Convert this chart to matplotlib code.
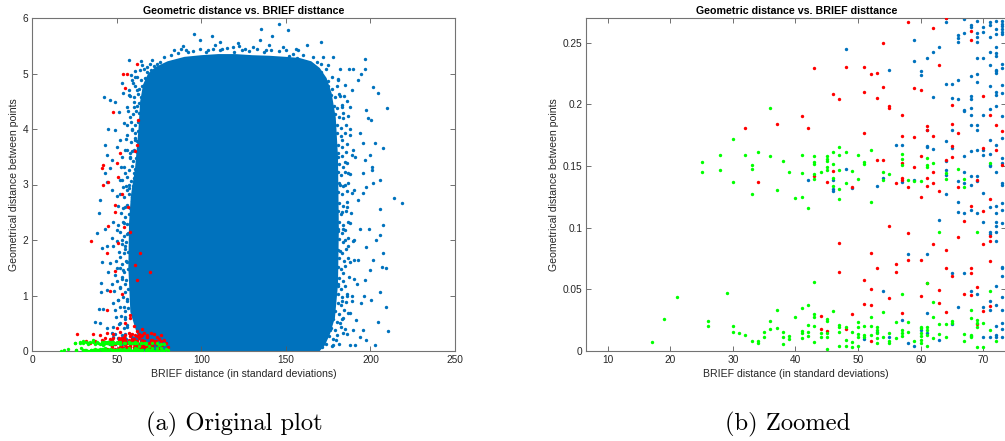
import matplotlib
matplotlib.use("Agg")
import matplotlib.pyplot as plt
from matplotlib.ticker import FuncFormatter

# ---------------------------------------------------------------------------
# Matches plotted against BRIEF distance (x) and geometric distance (y).
# Points inside the zoom window (x <= ~73, y <= 0.27), read as (x, y).
# ---------------------------------------------------------------------------
green_pts = [
    (17, 0.0071), (19, 0.0263), (21, 0.0441), (26, 0.0241), (26, 0.0203),
    (29, 0.0474), (30, 0.0203), (30, 0.0152), (31, 0.0143), (32, 0.0127),
    (33, 0.0079), (34, 0.0084), (34, 0.0068), (35, 0.0155), (35, 0.0116),
    (36, 0.0246), (36, 0.0181), (37, 0.0333), (37, 0.0186), (38, 0.0157),
    (38, 0.0114), (38, 0.0060), (39, 0.0119), (39, 0.0100), (40, 0.0274),
    (41, 0.0352), (41, 0.0162), (41, 0.0143), (41, 0.0103), (42, 0.0371),
    (42, 0.0214), (42, 0.0157), (42, 0.0122), (43, 0.0560), (43, 0.0298),
    (43, 0.0279), (43, 0.0200), (43, 0.0076), (44, 0.0149), (44, 0.0116),
    (45, 0.0260), (45, 0.0247), (45, 0.0149), (45, 0.0114), (45, 0.0019),
    (46, 0.0325), (47, 0.0211), (47, 0.0198), (47, 0.0154), (47, 0.0041),
    (48, 0.0198), (48, 0.0089), (48, 0.0041), (49, 0.0157), (49, 0.0071),
    (49, 0.0035), (50, 0.0238), (50, 0.0192), (50, 0.0135), (50, 0.0117),
    (50, 0.0041), (51, 0.0203), (51, 0.0130), (51, 0.0117), (52, 0.0279),
    (52, 0.0203), (52, 0.0130), (53, 0.0198), (53, 0.0171), (53, 0.0144),
    (53, 0.0103), (53, 0.0068), (54, 0.0314), (54, 0.0111), (55, 0.0149),
    (55, 0.0084), (55, 0.0068), (56, 0.0233), (56, 0.0108), (57, 0.0463),
    (57, 0.0168), (57, 0.0149), (57, 0.0122), (58, 0.0233), (58, 0.0154),
    (59, 0.0084), (60, 0.0198), (60, 0.0184), (60, 0.0144), (60, 0.0119),
    (60, 0.0089), (60, 0.0068), (61, 0.0550), (61, 0.0198), (61, 0.0171),
    (61, 0.0130), (61, 0.0041), (62, 0.0401), (62, 0.0279), (62, 0.0103),
    (63, 0.0961), (63, 0.0219), (63, 0.0138), (64, 0.0222), (64, 0.0117),
    (65, 0.0246), (65, 0.0225), (67, 0.0138), (67, 0.0084), (68, 0.0333),
    (68, 0.0271), (68, 0.0130), (68, 0.0117), (69, 0.0961), (69, 0.0252),
    (69, 0.0230), (69, 0.0192), (69, 0.0035), (70, 0.0225), (70, 0.0035),
    (71, 0.0487), (71, 0.0171), (72, 0.0084),
    (25, 0.1529), (25, 0.1451), (28, 0.1589), (28, 0.1470), (30, 0.1716),
    (30, 0.1372), (32, 0.1586), (33, 0.1508), (33, 0.1473), (33, 0.1275),
    (34, 0.1610), (36, 0.1973), (36, 0.1581), (37, 0.1307), (38, 0.1537),
    (39, 0.1453), (40, 0.1240), (41, 0.1589), (41, 0.1443), (41, 0.1248),
    (42, 0.1156), (43, 0.1581), (43, 0.1532), (43, 0.1513), (43, 0.1435),
    (43, 0.1391), (44, 0.1451), (45, 0.1578), (45, 0.1557), (45, 0.1537),
    (45, 0.1489), (45, 0.1465), (46, 0.1613), (46, 0.1513), (46, 0.1405),
    (46, 0.1334), (47, 0.1654), (47, 0.1586), (47, 0.1470), (47, 0.1316),
    (47, 0.1229), (48, 0.1613), (48, 0.1364), (49, 0.1462), (50, 0.1592),
    (50, 0.1396), (51, 0.1534), (51, 0.1518), (52, 0.1629), (52, 0.1209),
    (54, 0.1453), (54, 0.1388), (55, 0.1432), (57, 0.1599), (57, 0.1556),
    (57, 0.1510), (58, 0.1383), (59, 0.1375), (60, 0.1375), (61, 0.1566),
    (61, 0.1505), (61, 0.1488), (62, 0.1524), (64, 0.1442), (64, 0.1394),
    (66, 0.1478), (67, 0.1397), (67, 0.1326), (71, 0.1524),
]

red_pts = [
    (44, 0.0287), (44, 0.0179), (45, 0.0165), (47, 0.0874), (47, 0.0644),
    (48, 0.0176), (49, 0.0301), (51, 0.0574), (51, 0.0379), (52, 0.0793),
    (52, 0.0504), (52, 0.0374), (52, 0.0081), (53, 0.0674), (55, 0.1015),
    (55, 0.0428), (56, 0.0704), (56, 0.0644), (57, 0.0306), (58, 0.0956),
    (58, 0.0739), (60, 0.0739), (60, 0.0447), (61, 0.0555), (62, 0.0869),
    (63, 0.0493), (63, 0.0387), (64, 0.0815), (64, 0.0671), (64, 0.0314),
    (65, 0.0609), (66, 0.0921), (67, 0.1053), (67, 0.0460), (68, 0.0670),
    (68, 0.0636), (68, 0.0455), (69, 0.0517), (69, 0.0222), (70, 0.0869),
    (70, 0.0325), (71, 0.0929), (71, 0.0888), (71, 0.0726), (71, 0.0366),
    (32, 0.1808), (34, 0.1372), (37, 0.1843), (41, 0.1905), (42, 0.1808),
    (43, 0.2295), (43, 0.1415), (45, 0.1372), (46, 0.2084), (46, 0.1459),
    (47, 0.2046), (48, 0.2303), (49, 0.1326), (51, 0.2300), (51, 0.2100),
    (51, 0.1770), (52, 0.2249), (53, 0.2254), (53, 0.2054), (53, 0.1548),
    (54, 0.2501), (54, 0.2141), (54, 0.1550), (55, 0.1984), (55, 0.1970),
    (56, 0.1361), (57, 0.1913), (57, 0.1740), (57, 0.1524), (57, 0.1402),
    (57, 0.1388), (58, 0.2669), (58, 0.1329), (59, 0.2135), (59, 0.1735),
    (59, 0.1488), (60, 0.2119), (60, 0.1583), (60, 0.1250), (61, 0.1821),
    (61, 0.1789), (61, 0.1402), (61, 0.1340), (62, 0.2615), (62, 0.1740),
    (62, 0.1450), (62, 0.1361), (63, 0.2322), (63, 0.1299), (64, 0.2701),
    (64, 0.1550), (65, 0.1997), (65, 0.1843), (65, 0.1659), (65, 0.1572),
    (66, 0.1767), (66, 0.1329), (68, 0.2593), (68, 0.2525), (68, 0.1172),
    (69, 0.1388), (70, 0.2065), (70, 0.1650), (70, 0.1137), (71, 0.1916),
    (71, 0.1230), (72, 0.1835), (72, 0.1632), (73, 0.1786), (73, 0.1510),
]

blue_pts = [
    (51, 0.0098), (53, 0.0157), (54, 0.0487), (55, 0.0111), (57, 0.0252),
    (58, 0.0785), (58, 0.0062), (59, 0.0043), (60, 0.0171), (61, 0.0785),
    (61, 0.0309), (61, 0.0143), (63, 0.1059), (63, 0.0089), (65, 0.0631),
    (65, 0.0217), (66, 0.0360), (67, 0.0631), (68, 0.0487), (68, 0.0125),
    (69, 0.0460), (70, 0.1050), (70, 0.0355), (70, 0.0117), (71, 0.0961),
    (71, 0.0950), (71, 0.0409), (71, 0.0333), (71, 0.0117), (72, 0.1050),
    (72, 0.1010), (72, 0.0964), (72, 0.0894), (72, 0.0523), (72, 0.0374),
    (72, 0.0203), (72, 0.0130), (72, 0.0111), (73, 0.1037), (73, 0.0685),
    (73, 0.0671), (73, 0.0609), (73, 0.0436), (73, 0.0333), (73, 0.0225),
    (73, 0.0179), (73, 0.0117),
    (42, 0.1388), (46, 0.1386), (46, 0.1315), (46, 0.1299), (48, 0.2449),
    (48, 0.1475), (49, 0.1321), (53, 0.1334), (54, 0.1402), (55, 0.2276),
    (56, 0.1667), (57, 0.1667), (57, 0.1369), (59, 0.2522), (59, 0.2355),
    (59, 0.1388), (60, 0.2268), (60, 0.2241), (61, 0.2374), (61, 0.1794),
    (61, 0.1664), (61, 0.1654), (62, 0.2422), (62, 0.2060), (62, 0.1637),
    (63, 0.2463), (64, 0.2701), (64, 0.2666), (64, 0.2165), (64, 0.1705),
    (64, 0.1537), (64, 0.1469), (64, 0.1429), (64, 0.1274), (65, 0.2165),
    (65, 0.2054), (65, 0.1794), (65, 0.1645), (66, 0.2566), (66, 0.2539),
    (66, 0.2503), (66, 0.2200), (66, 0.2046), (66, 0.1375), (66, 0.1212),
    (66, 0.1130), (67, 0.2693), (67, 0.2579), (67, 0.1957), (67, 0.1943),
    (67, 0.1578), (67, 0.1448), (67, 0.1361), (67, 0.1115), (68, 0.2647),
    (68, 0.2625), (68, 0.2227), (68, 0.2065), (68, 0.2043), (68, 0.1970),
    (68, 0.1916), (68, 0.1835), (68, 0.1624), (68, 0.1421), (68, 0.1348),
    (68, 0.1140), (69, 0.2674), (69, 0.2579), (69, 0.2547), (69, 0.2503),
    (69, 0.2376), (69, 0.2249), (69, 0.2179), (69, 0.1835), (69, 0.1789),
    (69, 0.1626), (69, 0.1415), (69, 0.1375), (69, 0.1120), (70, 0.2625),
    (70, 0.2585), (70, 0.2374), (70, 0.1916), (70, 0.1626), (70, 0.1591),
    (70, 0.1285), (71, 0.2669), (71, 0.2642), (71, 0.2544), (71, 0.2425),
    (71, 0.2322), (71, 0.2152), (71, 0.1962), (71, 0.1713), (71, 0.1599),
    (71, 0.1510), (71, 0.1497), (71, 0.1170), (72, 0.2674), (72, 0.2612),
    (72, 0.2574), (72, 0.2466), (72, 0.2417), (72, 0.2390), (72, 0.2282),
    (72, 0.2268), (72, 0.2254), (72, 0.2097), (72, 0.2079), (72, 0.1989),
    (72, 0.1672), (72, 0.1448), (72, 0.1177), (72, 0.1120), (73, 0.2674),
    (73, 0.2655), (73, 0.2633), (73, 0.2612), (73, 0.2587), (73, 0.2571),
    (73, 0.2328), (73, 0.2295), (73, 0.2157), (73, 0.2092), (73, 0.1903),
    (73, 0.1727), (73, 0.1564), (73, 0.1524), (73, 0.1361), (73, 0.1348),
    (73, 0.1199), (73, 0.1140),
]

# Points only visible in the full-range view.
red_wide_pts = [
    (26.6, 0.30), (36, 0.31), (40, 0.29), (44, 0.32), (48, 0.30), (52, 0.34),
    (55, 0.29), (57, 0.33), (59, 0.31), (62, 0.36), (63, 0.30), (66, 0.32),
    (68, 0.29), (70, 0.33), (72, 0.30), (74, 0.25), (74, 0.12), (75, 0.05),
    (76, 0.18), (76, 0.28), (77, 0.10), (78, 0.20), (79, 0.15), (80, 0.08),
    (75, 0.22), (61, 0.28), (65, 0.28),
    (61.7, 5.18), (53.8, 4.99), (55.8, 4.99), (54.8, 4.73), (47.9, 4.30),
    (62.6, 4.17), (61.7, 3.71), (60.7, 3.61), (51.8, 3.57), (49.8, 3.38),
    (41.6, 3.35), (41.0, 3.29), (50.8, 3.14), (42.0, 3.00), (44.9, 3.05),
    (52.8, 2.83), (48.9, 2.63), (56.7, 2.60), (48.9, 2.50), (44.9, 2.25),
    (54.2, 2.23), (57.7, 2.15), (34.7, 1.98), (50.8, 1.94), (43.9, 1.77),
    (63.6, 1.76), (48.9, 1.44), (60.7, 1.55), (69.9, 1.43), (61.7, 1.28),
    (45.9, 1.09), (52.8, 1.03), (43.9, 0.74), (57.7, 0.65), (57.7, 0.59),
    (55, 0.50), (60, 0.45), (65, 0.40), (50, 0.42),
]

green_wide_pts = [
    (74, 0.02), (75, 0.10), (76, 0.05), (77, 0.02), (78, 0.12), (79, 0.03),
    (80, 0.01), (74, 0.15), (76, 0.13), (73.8, 0.06), (75, 0.00), (78, 0.00),
]

# Sparse blue matches scattered around the dense cloud.
blue_wide_pts = [
    # top
    (95.7, 5.71), (106.4, 5.675), (110.9, 5.57), (121.6, 5.555), (135.5, 5.795),
    (142, 5.675), (145.8, 5.89), (151.5, 5.79), (162.7, 5.52), (170.6, 5.57),
    (134.4, 5.60), (148, 5.48), (130.6, 5.48), (118.8, 5.48), (99, 5.60),
    (88, 5.45), (84, 5.42), (112, 5.45), (126, 5.45), (156, 5.45), (166, 5.30),
    (92, 5.38), (104, 5.42), (138, 5.42),
    # right, upper half
    (196.6, 5.27), (197, 5.09), (194.6, 5.00), (192.7, 4.88), (201.5, 4.76),
    (204.5, 4.64), (209.8, 4.37), (197.6, 4.34), (198.6, 4.19), (200.6, 4.16),
    (202.5, 3.74), (207.4, 3.65), (199.6, 3.53), (201.1, 3.32), (205.5, 3.08),
    (200.7, 3.26), (205.5, 2.55), (213.9, 2.76), (218.9, 2.66), (195.6, 2.84),
    (189.7, 5.09), (187.4, 5.09), (181.8, 5.09), (177.9, 5.29), (174.9, 5.15),
    (172, 5.30), (187.7, 4.40), (193.7, 3.92), (189.7, 3.62), (195.6, 3.74),
    (196.6, 3.44), (195.6, 3.20), (192.7, 2.72), (197.6, 2.96), (201.5, 3.02),
    (182, 4.6), (184, 4.2), (183, 3.8), (185, 3.4), (182, 3.0), (186, 2.6),
    (184, 2.2), (181, 4.9), (185, 4.8), (188, 4.0), (187, 3.2), (190, 2.9),
    (183, 2.5), (188, 2.3), (191, 3.5), (186, 4.5), (183, 4.4), (185, 3.0),
    (189, 4.7), (181, 3.5), (181, 2.2),
    # right, lower half
    (207.4, 2.27), (203.5, 2.00), (205.5, 2.09), (207.4, 1.76), (201.5, 1.64),
    (207, 1.52), (209.4, 1.49), (199.6, 1.46), (205.5, 1.07), (200.5, 0.92),
    (209.2, 0.80), (204.5, 0.53), (210.4, 0.36), (197.6, 0.20), (202.5, 0.11),
    (195.6, 0.38), (193.7, 0.26), (191.7, 0.56), (189.7, 0.38), (187.7, 0.11),
    (186.8, 0.68), (197.6, 1.88), (196.6, 1.28), (194.6, 0.86), (183.8, 0.32),
    (179.9, 0.20), (175.9, 0.38), (192.7, 1.64),
    (182, 1.8), (184, 1.4), (186, 1.0), (188, 1.6), (190, 2.0), (192, 1.2),
    (183, 0.9), (185, 2.0), (189, 0.9), (181, 1.2), (187, 1.9), (194, 2.2),
    (191, 0.1), (178, 0.1), (182, 0.5), (186, 0.3), (196, 1.0), (199, 2.2),
    (184, 0.6),
    # left, upper half
    (42.6, 4.58), (45.9, 4.52), (48.9, 4.49), (57.3, 5.24), (58.1, 4.97),
    (52.8, 4.82), (53.8, 4.64), (43.1, 3.71), (43.9, 3.53), (48.9, 3.98),
    (49.8, 3.68), (51.8, 3.80), (42.9, 3.20), (44.4, 3.05), (40.0, 2.72),
    (39.6, 2.48), (46.9, 3.44), (52.2, 3.32), (51.8, 3.08), (53.8, 2.96),
    (55.8, 3.62), (57.7, 4.22), (55.8, 4.40), (59.7, 4.82), (60.7, 4.94),
    (63.6, 5.06), (67.6, 5.12), (70.5, 5.24), (75.5, 5.21),
    (58, 4.6), (60, 4.4), (59, 4.0), (61, 3.8), (58, 3.5), (60, 3.2), (57, 3.0),
    (59, 2.7), (55, 2.6), (56, 3.9), (54, 4.1), (57, 4.7), (62, 4.7), (55, 3.2),
    (53, 3.5), (59, 3.6), (56, 2.9), (51, 4.3), (50, 2.8), (47, 2.9), (45, 4.0),
    (46, 3.3), (61, 5.05), (65, 5.15), (64, 5.22),
    # left, lower half
    (38, 2.12), (41, 1.85), (41, 1.60), (44.9, 1.43), (45.9, 1.58), (48.9, 1.37),
    (40.6, 1.22), (40.6, 1.07), (39.6, 0.75), (42, 0.76), (37, 0.53), (40, 0.50),
    (43.9, 0.41), (46.9, 0.32), (49.4, 0.62), (50.8, 0.92), (47.9, 0.86),
    (51.8, 1.16), (51.8, 1.70), (46.9, 2.03), (49.8, 2.18), (52.8, 2.00),
    (54.2, 1.76), (53.8, 1.46), (54.8, 0.62), (55.8, 0.44), (52.8, 0.23),
    (54, 2.3), (55, 1.9), (55, 1.2), (56, 0.9), (54, 0.8), (53, 1.3), (56, 1.6),
    (52, 0.5), (50, 1.5), (48, 1.9), (47, 1.2), (44, 1.9), (44, 1.1), (43, 2.2),
    (56, 2.1), (55, 0.3), (58, 0.3), (60, 0.2), (57, 0.15), (49, 0.3),
]

# Speckled fringe just outside the saturated core.
blue_left_fringe = [
    (55.5, 0.22), (53.2, 0.29), (50.4, 0.24), (56.2, 0.47), (54.0, 0.41),
    (51.5, 0.49), (47.8, 0.44), (55.0, 0.58), (52.6, 0.63), (56.4, 0.77),
    (54.7, 0.72), (51.9, 0.79), (49.0, 0.74), (55.8, 0.93), (53.5, 0.98),
    (50.6, 0.91), (56.6, 1.12), (54.9, 1.07), (52.1, 1.14), (48.2, 1.09),
    (55.4, 1.28), (53.0, 1.33), (50.3, 1.27), (56.7, 1.47), (54.4, 1.42),
    (51.7, 1.49), (55.6, 1.62), (52.8, 1.57), (49.4, 1.63), (56.5, 1.78),
    (54.6, 1.83), (51.2, 1.79), (55.2, 1.97), (53.3, 1.92), (49.9, 1.98),
    (56.8, 2.12), (54.1, 2.08), (52.0, 2.14), (55.9, 2.28), (53.6, 2.33),
    (50.7, 2.27), (47.5, 2.32), (57.3, 2.47), (55.1, 2.42), (52.4, 2.49),
    (58.0, 2.58), (56.2, 2.63), (53.9, 2.57), (50.9, 2.62), (58.8, 2.78),
    (57.0, 2.83), (54.5, 2.77), (51.8, 2.82), (59.6, 2.97), (57.4, 2.93),
    (55.2, 2.98), (60.3, 3.12), (58.5, 3.07), (56.0, 3.13), (53.0, 3.08),
    (61.0, 3.28), (59.1, 3.33), (56.9, 3.27), (54.1, 3.32), (61.4, 3.47),
    (59.8, 3.42), (57.6, 3.48), (61.8, 3.58), (60.0, 3.63), (57.7, 3.57),
    (54.6, 3.62), (62.2, 3.78), (60.6, 3.83), (58.3, 3.77), (55.4, 3.82),
    (62.4, 3.97), (60.7, 3.93), (58.9, 3.98), (62.7, 4.12), (61.0, 4.07),
    (58.6, 4.13), (55.9, 4.08), (63.0, 4.28), (61.5, 4.33), (59.3, 4.27),
    (56.6, 4.32), (63.3, 4.47), (61.8, 4.42), (59.9, 4.48), (64.0, 4.58),
    (62.3, 4.63), (60.1, 4.57), (57.2, 4.62), (65.0, 4.77), (63.1, 4.72),
    (61.0, 4.78), (66.5, 4.92), (64.4, 4.88), (62.2, 4.93), (59.0, 4.89),
    (70.0, 5.07), (67.8, 5.03), (66.0, 5.08), (74.0, 5.17), (72.0, 5.13),
    (69.5, 5.18),
]

blue_right_fringe = [
    (171.5, 0.08), (173.8, 0.13), (177.0, 0.09), (181.2, 0.12), (175.2, 0.27),
    (177.6, 0.22), (180.3, 0.28), (176.6, 0.42), (178.9, 0.37), (182.5, 0.43),
    (185.0, 0.39), (178.0, 0.57), (180.4, 0.52), (183.1, 0.58), (179.2, 0.72),
    (181.5, 0.67), (184.2, 0.73), (187.9, 0.69), (180.6, 0.87), (182.8, 0.82),
    (185.5, 0.88), (181.0, 1.02), (183.4, 0.97), (186.3, 1.03), (189.1, 0.99),
    (180.8, 1.17), (182.6, 1.12), (185.0, 1.18), (181.3, 1.32), (183.9, 1.27),
    (187.2, 1.33), (190.4, 1.29), (180.9, 1.52), (182.5, 1.47), (184.8, 1.53),
    (181.6, 1.67), (184.1, 1.62), (186.9, 1.68), (190.0, 1.64), (180.7, 1.82),
    (183.0, 1.77), (185.7, 1.83), (181.2, 2.02), (183.6, 1.97), (186.5, 2.03),
    (189.6, 1.99), (180.6, 2.17), (182.9, 2.12), (184.9, 2.18), (181.4, 2.32),
    (183.7, 2.27), (186.8, 2.33), (180.9, 2.52), (182.7, 2.47), (185.3, 2.53),
    (188.6, 2.49), (181.5, 2.67), (184.0, 2.62), (186.2, 2.68), (180.8, 2.87),
    (183.2, 2.82), (185.9, 2.88), (189.3, 2.84), (181.3, 3.02), (183.5, 2.97),
    (186.7, 3.03), (180.7, 3.22), (182.6, 3.17), (185.2, 3.23), (188.1, 3.19),
    (181.4, 3.37), (183.8, 3.32), (186.4, 3.38), (180.6, 3.57), (182.9, 3.52),
    (185.6, 3.58), (189.0, 3.54), (181.0, 3.72), (183.3, 3.67), (186.1, 3.73),
    (180.5, 3.92), (182.4, 3.87), (184.7, 3.93), (187.8, 3.89), (180.2, 4.07),
    (182.8, 4.02), (185.4, 4.08), (179.0, 4.27), (181.3, 4.22), (183.9, 4.28),
    (187.0, 4.24), (178.3, 4.42), (180.5, 4.37), (183.0, 4.43), (176.4, 4.62),
    (178.8, 4.57), (181.6, 4.63), (184.5, 4.59), (175.0, 4.77), (177.2, 4.72),
    (180.0, 4.78), (172.4, 4.92), (174.6, 4.87), (177.3, 4.93), (180.8, 4.89),
    (168.0, 5.07), (170.5, 5.02), (173.6, 5.08), (162.0, 5.20), (165.3, 5.15),
    (168.4, 5.21), (171.0, 5.17), (152.0, 5.32), (156.5, 5.28), (160.0, 5.33),
]

blue_top_fringe = [
    (78, 5.30), (86, 5.37), (95, 5.40), (103, 5.38), (111, 5.42), (119, 5.39),
    (128, 5.41), (137, 5.38), (146, 5.40), (154, 5.36), (82, 5.33), (91, 5.43),
    (99, 5.45), (107, 5.44), (115, 5.46), (124, 5.43), (133, 5.45), (141, 5.43),
    (150, 5.42), (89, 5.50), (108, 5.52), (122, 5.50), (140, 5.51), (157, 5.42),
]

# Outline of the saturated core of the blue cloud (too dense for single dots).
cloud_x = [66, 62, 58, 56.8, 57.2, 58.3, 60.8, 62.8, 63.8, 65.5, 68.5, 73,
           80, 90, 100, 110, 120, 130, 140, 150, 158, 165, 170, 174, 177,
           179.5, 180.8, 181.3, 180.8, 179, 176, 173, 170]
cloud_y = [0, 0.3, 0.7, 1.5, 2.3, 2.8, 3.3, 4.0, 4.5, 4.8, 5.0, 5.12, 5.22,
           5.3, 5.33, 5.35, 5.35, 5.33, 5.32, 5.3, 5.28, 5.22, 5.1, 4.92,
           4.65, 4.2, 3.5, 2.2, 1.2, 0.6, 0.3, 0.1, 0]

left_xticks = [0, 50, 100, 150, 200, 250]
left_yticks = [0, 1, 2, 3, 4, 5, 6]
right_xticks = [10, 20, 30, 40, 50, 60, 70]
right_yticks = [0, 0.05, 0.1, 0.15, 0.2, 0.25]

title_text = "Geometric distance vs. BRIEF disttance"
xlabel_text = "BRIEF distance (in standard deviations)"
ylabel_text = "Geometrical distance between points"
captions = ["(a) Original plot", "(b) Zoomed"]

BLUE = "#0072BD"
RED = "#FF0000"
GREEN = "#00FF00"
AX_COLOR = "0.15"

plt.rcParams["font.family"] = ["Liberation Sans", "DejaVu Sans"]


def xy(pts):
    return [p[0] for p in pts], [p[1] for p in pts]


def style(ax, xticks, yticks):
    ax.set_xticks(xticks)
    ax.set_yticks(yticks)
    fmt = FuncFormatter(lambda v, _: f"{v:g}")
    ax.xaxis.set_major_formatter(fmt)
    ax.yaxis.set_major_formatter(fmt)
    ax.tick_params(direction="in", top=True, right=True, length=3.5,
                   width=0.6, color="0.35", labelsize=7.3,
                   labelcolor=AX_COLOR, pad=3)
    for s in ax.spines.values():
        s.set_color("0.45")
        s.set_linewidth(0.8)
    ax.set_title(title_text, fontsize=7.7, fontweight="bold",
                 color="black", pad=3)
    ax.set_xlabel(xlabel_text, fontsize=7.6, color=AX_COLOR, labelpad=2.5)
    ax.set_ylabel(ylabel_text, fontsize=7.6, color=AX_COLOR, labelpad=2.5)


fig = plt.figure(figsize=(10.05, 4.41), dpi=100)
W, H = 1005.0, 441.0
ax1 = fig.add_axes([32.3 / W, 90 / H, 422.7 / W, 333 / H])
ax2 = fig.add_axes([586.3 / W, 90 / H, 420.0 / W, 333 / H])

dot = dict(s=6, linewidths=0, marker="o")

# Full view
ax1.fill(cloud_x, cloud_y, color=BLUE, linewidth=0, zorder=1)
bx, by = xy(blue_pts + blue_wide_pts + blue_left_fringe
            + blue_right_fringe + blue_top_fringe)
ax1.scatter(bx, by, color=BLUE, zorder=2, **dot)
rx, ry = xy(red_pts + red_wide_pts)
ax1.scatter(rx, ry, color=RED, zorder=3, **dot)
gx, gy = xy(green_pts + green_wide_pts)
ax1.scatter(gx, gy, color=GREEN, zorder=4, **dot)
ax1.set_xlim(0, 250)
ax1.set_ylim(0, 6)
style(ax1, left_xticks, left_yticks)

# Zoomed view
bx, by = xy(blue_pts)
ax2.scatter(bx, by, color=BLUE, zorder=2, **dot)
rx, ry = xy(red_pts)
ax2.scatter(rx, ry, color=RED, zorder=3, **dot)
gx, gy = xy(green_pts)
ax2.scatter(gx, gy, color=GREEN, zorder=4, **dot)
ax2.set_xlim(6.58, 73.68)
ax2.set_ylim(0, 0.27)
style(ax2, right_xticks, right_yticks)

fig.text(234 / W, 1 - 424 / H, captions[0], family="cmr10", fontsize=17.7,
         ha="center", va="center", color="black")
fig.text(788 / W, 1 - 424 / H, captions[1], family="cmr10", fontsize=17.7,
         ha="center", va="center", color="black")

fig.savefig("out.png", dpi=100)
